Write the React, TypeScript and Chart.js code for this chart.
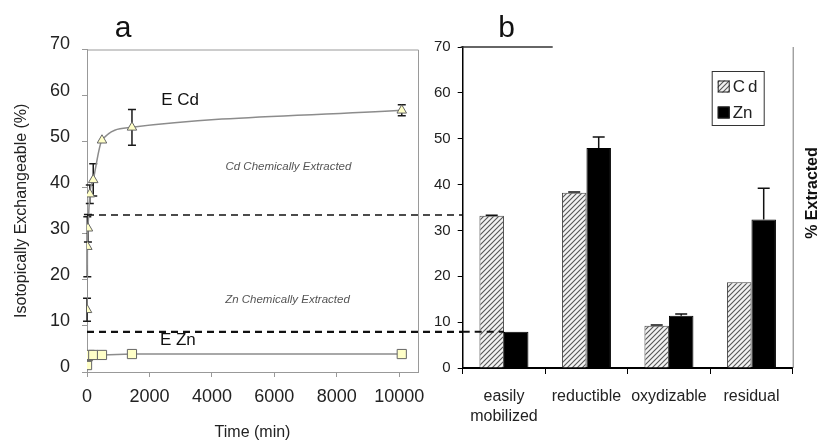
import React, { useEffect, useRef } from 'react';
import { Chart, registerables } from 'chart.js';
Chart.register(...registerables);

const FONT = "'Liberation Sans', Arial, Helvetica, sans-serif";

// ---------- Panel a : isotopic exchange kinetics ----------
const timeMin = [1, 10, 30, 90, 200, 480, 1440, 10080];
const cdExchangeable = [13.5, 27.2, 31.2, 38.6, 41.7, 50.3, 53.1, 56.8];
const cdExchangeableErr = [2.5, 6.5, 3, 2, 3.5, 0, 3.9, 1.2];
const znExchangeable = [1.5, 3.3, 3.5, 3.7, 3.7, 3.7, 3.9, 3.9];
const timeTicks = [0, 2000, 4000, 6000, 8000, 10000];
const cdChemLevelA = 34.1;
const znChemLevelA = 8.7;
const annotationsA = [
  { text: 'E Cd', x: 2980, y: 59, italic: false },
  { text: 'E Zn', x: 2910, y: 6.9, italic: false },
  { text: 'Cd Chemically Extracted', x: 6450, y: 44.6, italic: true },
  { text: 'Zn Chemically Extracted', x: 6420, y: 15.6, italic: true },
];

// ---------- Panel b : sequential extraction ----------
const fractions = [['easily', 'mobilized'], 'reductible', 'oxydizable', 'residual'];
const cdExtracted = [33.2, 38.2, 9.2, 18.7];
const cdExtractedErr = [0.1, 0.2, 0.2, 0];
const znExtracted = [7.9, 48.0, 11.4, 32.4];
const znExtractedErr = [0, 2.4, 0.4, 6.8];

function makeHatch(): CanvasPattern | string {
  const c = document.createElement('canvas');
  c.width = 5;
  c.height = 5;
  const g = c.getContext('2d');
  if (!g) return '#aaa';
  g.fillStyle = '#f2f2f2';
  g.fillRect(0, 0, 5, 5);
  g.strokeStyle = '#555';
  g.lineWidth = 1.1;
  g.beginPath();
  g.moveTo(-1, 6); g.lineTo(6, -1);
  g.moveTo(-1, 1); g.lineTo(1, -1);
  g.moveTo(4, 6); g.lineTo(6, 4);
  g.stroke();
  const p = g.createPattern(c, 'repeat');
  return p || '#aaa';
}

const pluginA = {
  id: 'pluginA',
  beforeDatasetsDraw(chart: any) {
    const { ctx, scales: { x, y } } = chart;
    ctx.save();
    ctx.strokeStyle = '#1a1a1a';
    ctx.lineWidth = 1.5;
    timeMin.forEach((t, i) => {
      const e = cdExchangeableErr[i];
      if (!e) return;
      const px = x.getPixelForValue(t);
      const top = y.getPixelForValue(cdExchangeable[i] + e);
      const bot = y.getPixelForValue(cdExchangeable[i] - e);
      ctx.beginPath();
      ctx.moveTo(px, top); ctx.lineTo(px, bot);
      ctx.moveTo(px - 4, top); ctx.lineTo(px + 4, top);
      ctx.moveTo(px - 4, bot); ctx.lineTo(px + 4, bot);
      ctx.stroke();
    });
    ctx.restore();
  },
  afterDraw(chart: any) {
    const { ctx, chartArea: a, scales: { x, y } } = chart;
    ctx.save();
    ctx.strokeStyle = '#9a9a9a';
    ctx.lineWidth = 1;
    ctx.beginPath();
    ctx.moveTo(a.left, a.top + 0.5); ctx.lineTo(a.right + 0.5, a.top + 0.5);
    ctx.lineTo(a.right + 0.5, a.bottom);
    ctx.stroke();
    ctx.strokeStyle = '#111';
    ctx.setLineDash([7, 5]);
    ctx.lineWidth = 1.5;
    ctx.beginPath();
    const y1 = y.getPixelForValue(cdChemLevelA);
    ctx.moveTo(a.left, y1); ctx.lineTo(chart.width, y1);
    ctx.stroke();
    ctx.lineWidth = 2.2;
    ctx.beginPath();
    const y2 = y.getPixelForValue(znChemLevelA);
    ctx.moveTo(a.left, y2); ctx.lineTo(chart.width, y2);
    ctx.stroke();
    ctx.setLineDash([]);
    ctx.textAlign = 'center';
    ctx.textBaseline = 'middle';
    annotationsA.forEach((n) => {
      ctx.font = n.italic ? `italic 11.5px ${FONT}` : `17px ${FONT}`;
      ctx.fillStyle = n.italic ? '#555' : '#111';
      ctx.fillText(n.text, x.getPixelForValue(n.x), y.getPixelForValue(n.y));
    });
    ctx.font = `30px ${FONT}`;
    ctx.fillStyle = '#111';
    ctx.textBaseline = 'alphabetic';
    ctx.fillText('a', a.left + 36, 37);
    ctx.restore();
  },
};

const pluginB = {
  id: 'pluginB',
  afterDatasetsDraw(chart: any) {
    const { ctx, chartArea: a, scales: { y } } = chart;
    ctx.save();
    ctx.strokeStyle = '#111';
    ctx.lineWidth = 1.5;
    const sets: [number[], number[]][] = [[cdExtracted, cdExtractedErr], [znExtracted, znExtractedErr]];
    sets.forEach(([vals, errs], di) => {
      const meta = chart.getDatasetMeta(di);
      meta.data.forEach((bar: any, j: number) => {
        const e = errs[j];
        if (!e) return;
        const top = y.getPixelForValue(vals[j] + e);
        ctx.beginPath();
        ctx.moveTo(bar.x, bar.y); ctx.lineTo(bar.x, top);
        ctx.moveTo(bar.x - 6, top); ctx.lineTo(bar.x + 6, top);
        ctx.stroke();
      });
    });
    const cdBar = chart.getDatasetMeta(0).data[0];
    const yz = y.getPixelForValue(znExtracted[0]);
    ctx.setLineDash([7, 5]);
    ctx.lineWidth = 2.2;
    ctx.beginPath();
    ctx.moveTo(a.left, yz); ctx.lineTo(cdBar.x + cdBar.width / 2, yz);
    ctx.stroke();
    ctx.restore();
  },
  afterDraw(chart: any) {
    const { ctx, chartArea: a } = chart;
    ctx.save();
    ctx.strokeStyle = '#333';
    ctx.lineWidth = 1.5;
    ctx.beginPath();
    ctx.moveTo(a.left - 2, a.top); ctx.lineTo(a.left + 90, a.top);
    ctx.stroke();
    ctx.strokeStyle = '#777';
    ctx.lineWidth = 1;
    ctx.beginPath();
    ctx.moveTo(a.right + 0.5, a.top); ctx.lineTo(a.right + 0.5, a.bottom);
    ctx.stroke();
    // legend
    const bx = a.right - 81, by = a.top + 24, bw = 52, bh = 54;
    ctx.fillStyle = '#fff';
    ctx.fillRect(bx, by, bw, bh);
    ctx.strokeStyle = '#333';
    ctx.lineWidth = 1;
    ctx.strokeRect(bx + 0.5, by + 0.5, bw, bh);
    const entries = [
      { label: 'Cd', fill: chart.data.datasets[0].backgroundColor, cy: by + 15.5 },
      { label: 'Zn', fill: '#000', cy: by + 41.5 },
    ];
    ctx.font = `17px ${FONT}`;
    ctx.textBaseline = 'middle';
    ctx.textAlign = 'left';
    entries.forEach((en) => {
      ctx.fillStyle = en.fill;
      ctx.fillRect(bx + 6, en.cy - 6, 12, 12);
      ctx.strokeStyle = '#222';
      ctx.strokeRect(bx + 6.5, en.cy - 5.5, 11, 11);
      ctx.fillStyle = '#222';
      try { (ctx as any).letterSpacing = en.label === 'Cd' ? '3px' : '0px'; } catch (e) {}
      ctx.fillText(en.label, bx + 21, en.cy + 1);
    });
    try { (ctx as any).letterSpacing = '0px'; } catch (e) {}
    ctx.save();
    ctx.translate(a.right + 20, a.top + 146);
    ctx.rotate(-Math.PI / 2);
    ctx.font = `bold 16px ${FONT}`;
    ctx.fillStyle = '#111';
    ctx.textAlign = 'center';
    ctx.textBaseline = 'middle';
    ctx.fillText('% Extracted', 0, 0);
    ctx.restore();
    ctx.font = `30px ${FONT}`;
    ctx.fillStyle = '#111';
    ctx.textAlign = 'center';
    ctx.textBaseline = 'alphabetic';
    ctx.fillText('b', a.left + 44, 37);
    ctx.restore();
  },
};

export default function App() {
  const refA = useRef<HTMLCanvasElement>(null);
  const refB = useRef<HTMLCanvasElement>(null);

  useEffect(() => {
    const chartA = new Chart(refA.current as HTMLCanvasElement, {
      type: 'line',
      data: {
        datasets: [
          {
            label: 'E Cd',
            data: timeMin.map((t, i) => ({ x: t, y: cdExchangeable[i] })),
            borderColor: '#8c8c8c',
            borderWidth: 1.5,
            cubicInterpolationMode: 'monotone',
            pointStyle: 'triangle',
            pointRadius: 5.5,
            pointBackgroundColor: '#ffffc8',
            pointBorderColor: '#666',
            pointBorderWidth: 1,
          },
          {
            label: 'E Zn',
            data: timeMin.map((t, i) => ({ x: t, y: znExchangeable[i] })),
            borderColor: '#8c8c8c',
            borderWidth: 1.5,
            pointStyle: 'rect',
            pointRadius: 6.5,
            pointBackgroundColor: '#ffffc8',
            pointBorderColor: '#666',
            pointBorderWidth: 1,
          },
        ],
      } as any,
      options: {
        responsive: false,
        animation: false,
        devicePixelRatio: 1,
        layout: { padding: { top: 49.5, right: 45, left: 0, bottom: 0 } },
        plugins: { legend: { display: false }, tooltip: { enabled: false } },
        scales: {
          x: {
            type: 'linear',
            min: 0,
            max: 10600,
            afterBuildTicks: (s: any) => { s.ticks = timeTicks.map((v) => ({ value: v })); },
            afterFit: (s: any) => { s.height = 70; },
            grid: { drawOnChartArea: false, tickLength: 5, color: '#999' },
            border: { color: '#999', width: 1 },
            ticks: { font: { family: FONT, size: 18 }, color: '#222', padding: 9, maxRotation: 0, callback: (v: any) => String(v) },
            title: { display: true, text: 'Time (min)', font: { family: FONT, size: 16 }, color: '#222', padding: { top: 0, bottom: 0 } },
          },
          y: {
            min: 0,
            max: 70,
            afterFit: (s: any) => { s.width = 87; },
            grid: { drawOnChartArea: false, tickLength: 5, color: '#999' },
            border: { color: '#999', width: 1 },
            ticks: { stepSize: 10, font: { family: FONT, size: 18 }, color: '#222', padding: 12, labelOffset: -5, callback: (v: any) => String(v) },
            title: { display: true, text: 'Isotopically Exchangeable (%)', font: { family: FONT, size: 16 }, color: '#222', padding: { top: 12, bottom: 0 } },
          },
        },
      } as any,
      plugins: [pluginA],
    });

    const hatch = makeHatch();
    const chartB = new Chart(refB.current as HTMLCanvasElement, {
      type: 'bar',
      data: {
        labels: fractions,
        datasets: [
          { label: 'Cd', data: cdExtracted, backgroundColor: hatch, borderColor: '#444', borderWidth: 1, categoryPercentage: 0.594, barPercentage: 1 },
          { label: 'Zn', data: znExtracted, backgroundColor: '#000', borderColor: '#000', borderWidth: 1, categoryPercentage: 0.594, barPercentage: 1 },
        ],
      } as any,
      options: {
        responsive: false,
        animation: false,
        devicePixelRatio: 1,
        layout: { padding: { top: 47, right: 28.3, left: 0, bottom: 0 } },
        plugins: { legend: { display: false }, tooltip: { enabled: false } },
        scales: {
          x: {
            afterFit: (s: any) => { s.height = 74; },
            grid: { drawOnChartArea: false, tickLength: 6, color: '#000', offset: true },
            border: { color: '#000', width: 2 },
            ticks: { font: { family: FONT, size: 16, lineHeight: '20px' }, color: '#222', padding: 12.7, maxRotation: 0, autoSkip: false },
          },
          y: {
            min: 0,
            max: 70,
            afterFit: (s: any) => { s.width = 42.7; },
            grid: { drawOnChartArea: false, tickLength: 5, color: '#000' },
            border: { color: '#000', width: 1.5 },
            ticks: { stepSize: 10, font: { family: FONT, size: 15 }, color: '#222', padding: 7, callback: (v: any) => String(v) },
          },
        },
      } as any,
      plugins: [pluginB],
    });

    return () => {
      chartA.destroy();
      chartB.destroy();
    };
  }, []);

  return (
    <div style={{ position: 'absolute', left: 0, top: 0, width: 821, height: 442, background: '#fff', overflow: 'hidden' }}>
      <canvas ref={refA} width={463} height={442} style={{ position: 'absolute', left: 0, top: 0 }} />
      <canvas ref={refB} width={401} height={442} style={{ position: 'absolute', left: 420, top: 0 }} />
    </div>
  );
}
